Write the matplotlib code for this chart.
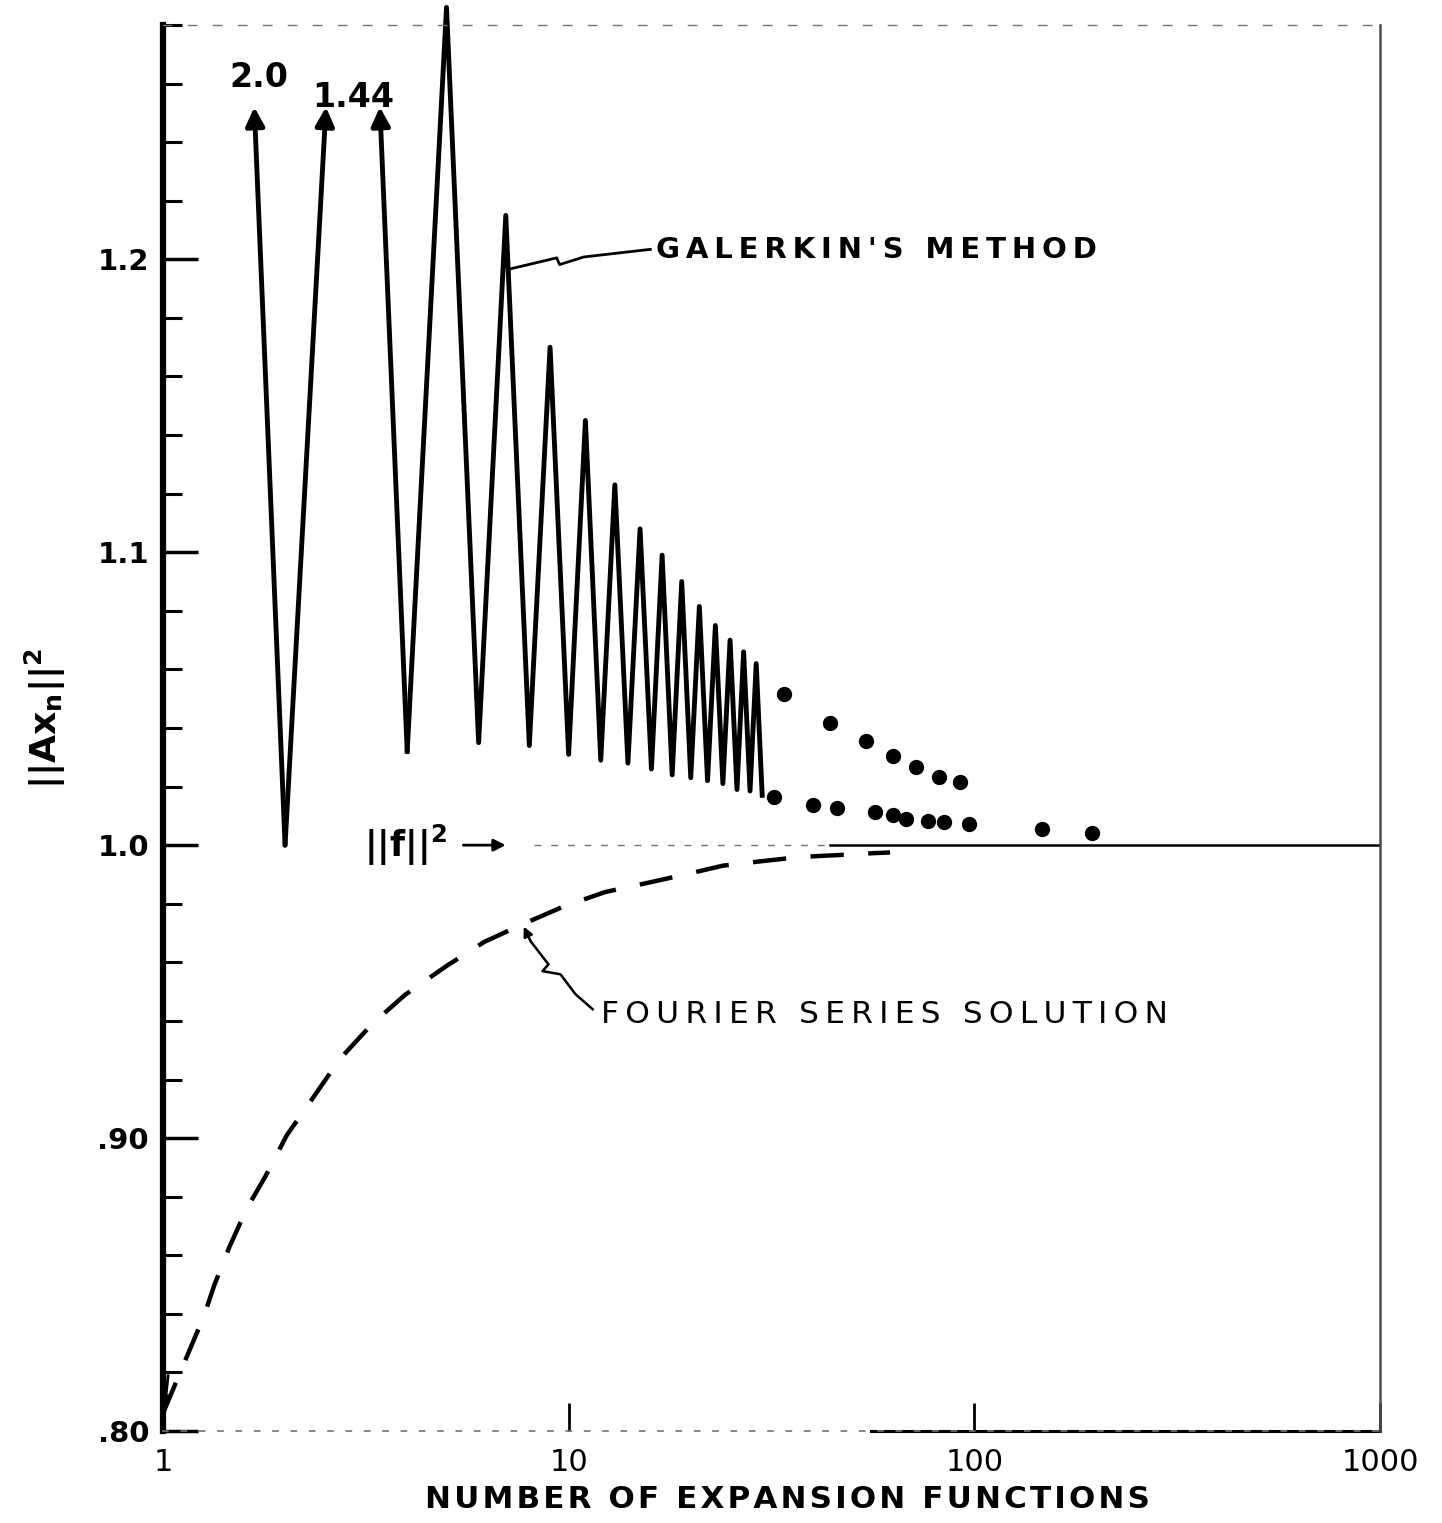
import numpy as np
import matplotlib
matplotlib.use('Agg')
import matplotlib.pyplot as plt
from matplotlib.ticker import NullLocator

matplotlib.rcParams['mathtext.fontset'] = 'dejavusans'
matplotlib.rcParams['font.family'] = 'DejaVu Sans'

# Galerkin's method, n = 1 .. 30 (1 and 3 go off scale: 2.0 and 1.44)
galerkin_n = np.arange(1, 31)
galerkin_val = [2.0, 1.0, 1.44, 1.032, 1.286, 1.035, 1.215, 1.034, 1.170, 1.031,
                1.145, 1.029, 1.123, 1.028, 1.108, 1.026, 1.099, 1.024, 1.090, 1.023,
                1.0815, 1.022, 1.075, 1.021, 1.070, 1.019, 1.066, 1.0185, 1.062, 1.017]

# isolated points past n = 30
dots_upper_n = [34, 44, 54, 63, 72, 82, 92]
dots_upper_val = [1.0517, 1.0418, 1.0356, 1.0305, 1.0267, 1.0233, 1.0216]
dots_lower_n = [32, 40, 46, 57, 63, 68, 77, 84, 97, 147, 195]
dots_lower_val = [1.0164, 1.0137, 1.0127, 1.0113, 1.0103, 1.0089, 1.0082, 1.0079,
                  1.0072, 1.0055, 1.0041]

# Fourier series solution
fourier_n = [1.0, 1.15, 1.26, 1.34, 1.46, 1.61, 1.79, 2.02, 2.35, 2.73, 3.28, 3.96,
             5.03, 6.2, 7.7, 9.7, 12.3, 15.5, 19.4, 24, 29.8, 37.4, 46, 57, 62]
fourier_val = [0.806, 0.826, 0.839, 0.850, 0.863, 0.876, 0.887, 0.901, 0.914, 0.927,
               0.939, 0.949, 0.959, 0.967, 0.973, 0.979, 0.984, 0.987, 0.990, 0.993,
               0.9945, 0.996, 0.9966, 0.9973, 0.9975]

norm_f = 1.0

ytick_vals = [0.80, 0.90, 1.0, 1.1, 1.2]
ytick_labels = ['.80', '.90', '1.0', '1.1', '1.2']
xtick_vals = [1, 10, 100, 1000]
xtick_labels = ['1', '10', '100', '1000']


def cut(n0, v0, n1, v1, level):
    # point on a segment (log x) where it reaches a given level
    t = (level - v0) / (v1 - v0)
    return 10 ** (np.log10(n0) + t * (np.log10(n1) - np.log10(n0))), level


def spaced(s, gap):
    # hand lettering is widely spaced
    return gap.join(s)


fig = plt.figure(figsize=(14.42, 15.23), dpi=100)
ax = fig.add_axes([0.113, 0.0604, 0.844, 0.9232])
ax.set_xscale('log')
ax.set_xlim(1, 1000)
ax.set_ylim(0.80, 1.28)

# frame
ax.spines['left'].set_linewidth(4.5)
ax.spines['top'].set_linewidth(1)
ax.spines['top'].set_color('0.45')
ax.spines['top'].set_linestyle((0, (6, 12)))
ax.spines['right'].set_linewidth(1.8)
ax.spines['right'].set_color('0.3')
ax.spines['right'].set_linestyle((0, (3, 1)))
ax.spines['bottom'].set_linewidth(1.2)
ax.spines['bottom'].set_color('0.45')
ax.spines['bottom'].set_linestyle((0, (3, 8)))
ax.plot([55.7, 1000], [0.80, 0.80], color='k', lw=2.2, clip_on=False)

# ticks
ax.set_yticks(ytick_vals)
ax.set_yticklabels(ytick_labels, fontsize=21, fontweight='bold')
ax.set_yticks(np.arange(0.80, 1.281, 0.02), minor=True)
ax.tick_params(axis='y', which='major', direction='in', length=25, width=2.5, pad=10)
ax.tick_params(axis='y', which='minor', direction='in', length=14, width=2.2)
ax.tick_params(axis='y', right=False, which='both')
ax.set_xticks(xtick_vals)
ax.set_xticklabels(xtick_labels, fontsize=22)
ax.xaxis.set_minor_locator(NullLocator())
ax.tick_params(axis='x', direction='in', length=20, width=2, pad=12, top=False)

# Galerkin zigzag
ax.plot(galerkin_n[3:], galerkin_val[3:], color='k', lw=3.5,
        solid_joinstyle='round', clip_on=False)
for i0, i1 in [(1, 0), (1, 2), (3, 2)]:
    tip = cut(galerkin_n[i0], galerkin_val[i0], galerkin_n[i1], galerkin_val[i1], 1.252)
    ax.annotate('', xy=tip, xytext=(galerkin_n[i0], galerkin_val[i0]),
                arrowprops=dict(arrowstyle='-|>', color='k', lw=3.5,
                                mutation_scale=28, shrinkA=0, shrinkB=0))
ax.text(1.72, 1.262, '2.0', fontsize=24, fontweight='bold', ha='center', va='center')
ax.text(2.94, 1.2553, '1.44', fontsize=24, fontweight='bold', ha='center', va='center')

# points
ax.plot(dots_upper_n, dots_upper_val, 'ko', ms=10)
ax.plot(dots_lower_n, dots_lower_val, 'ko', ms=10)

# ||f||^2 reference level
ax.plot([8.2, 44], [norm_f, norm_f], color='0.45', lw=1, ls=(0, (5, 7)))
ax.plot([44, 1000], [norm_f, norm_f], color='k', lw=1.8)
ax.text(3.96, norm_f, r'$\mathbf{||f||^2}$', fontsize=25, ha='center', va='center')
ax.annotate('', xy=(7.0, norm_f), xytext=(5.5, norm_f),
            arrowprops=dict(arrowstyle='-|>', color='k', lw=2, mutation_scale=18,
                            shrinkA=0, shrinkB=0))

# Fourier series
ax.plot(fourier_n, fourier_val, color='k', lw=3.2, dashes=(7.5, 5.5))
ax.annotate('', xy=(1.01, 0.808), xytext=(1.03, 0.819),
            arrowprops=dict(arrowstyle='-|>', color='k', lw=2, mutation_scale=16,
                            shrinkA=0, shrinkB=0))

# labels with leaders
ax.plot([7.11, 8.6, 9.35, 9.5, 10.9, 15.9], [1.1966, 1.1993, 1.2005, 1.1982, 1.2008, 1.2034],
        color='k', lw=2)
ax.text(16.4, 1.2033, spaced("GALERKIN'S METHOD", '\u2009'), fontsize=21,
        fontweight='bold', ha='left', va='center')

ax.plot([8.06, 8.92, 8.62, 9.55, 10.4, 11.46], [0.9672, 0.9593, 0.957, 0.9559, 0.9491, 0.944],
        color='k', lw=1.8)
ax.annotate('', xy=(7.75, 0.9722), xytext=(8.06, 0.9672),
            arrowprops=dict(arrowstyle='-|>', color='k', lw=1.8, mutation_scale=14,
                            shrinkA=0, shrinkB=0))
ax.text(12.0, 0.9423, spaced('FOURIER SERIES SOLUTION', '\u2009'), fontsize=22.5,
        ha='left', va='center')

# axis titles
fig.text(45 / 1442, 1 - 718 / 1523, r'$\mathbf{||Ax_n||^2}$', fontsize=26,
         rotation=90, ha='center', va='center')
fig.text(787 / 1442, 1 - 1500 / 1523, spaced('NUMBER OF EXPANSION FUNCTIONS', '\u200a'),
         fontsize=22.3, fontweight='bold', ha='center', va='center')

fig.savefig('out.png', dpi=100)
